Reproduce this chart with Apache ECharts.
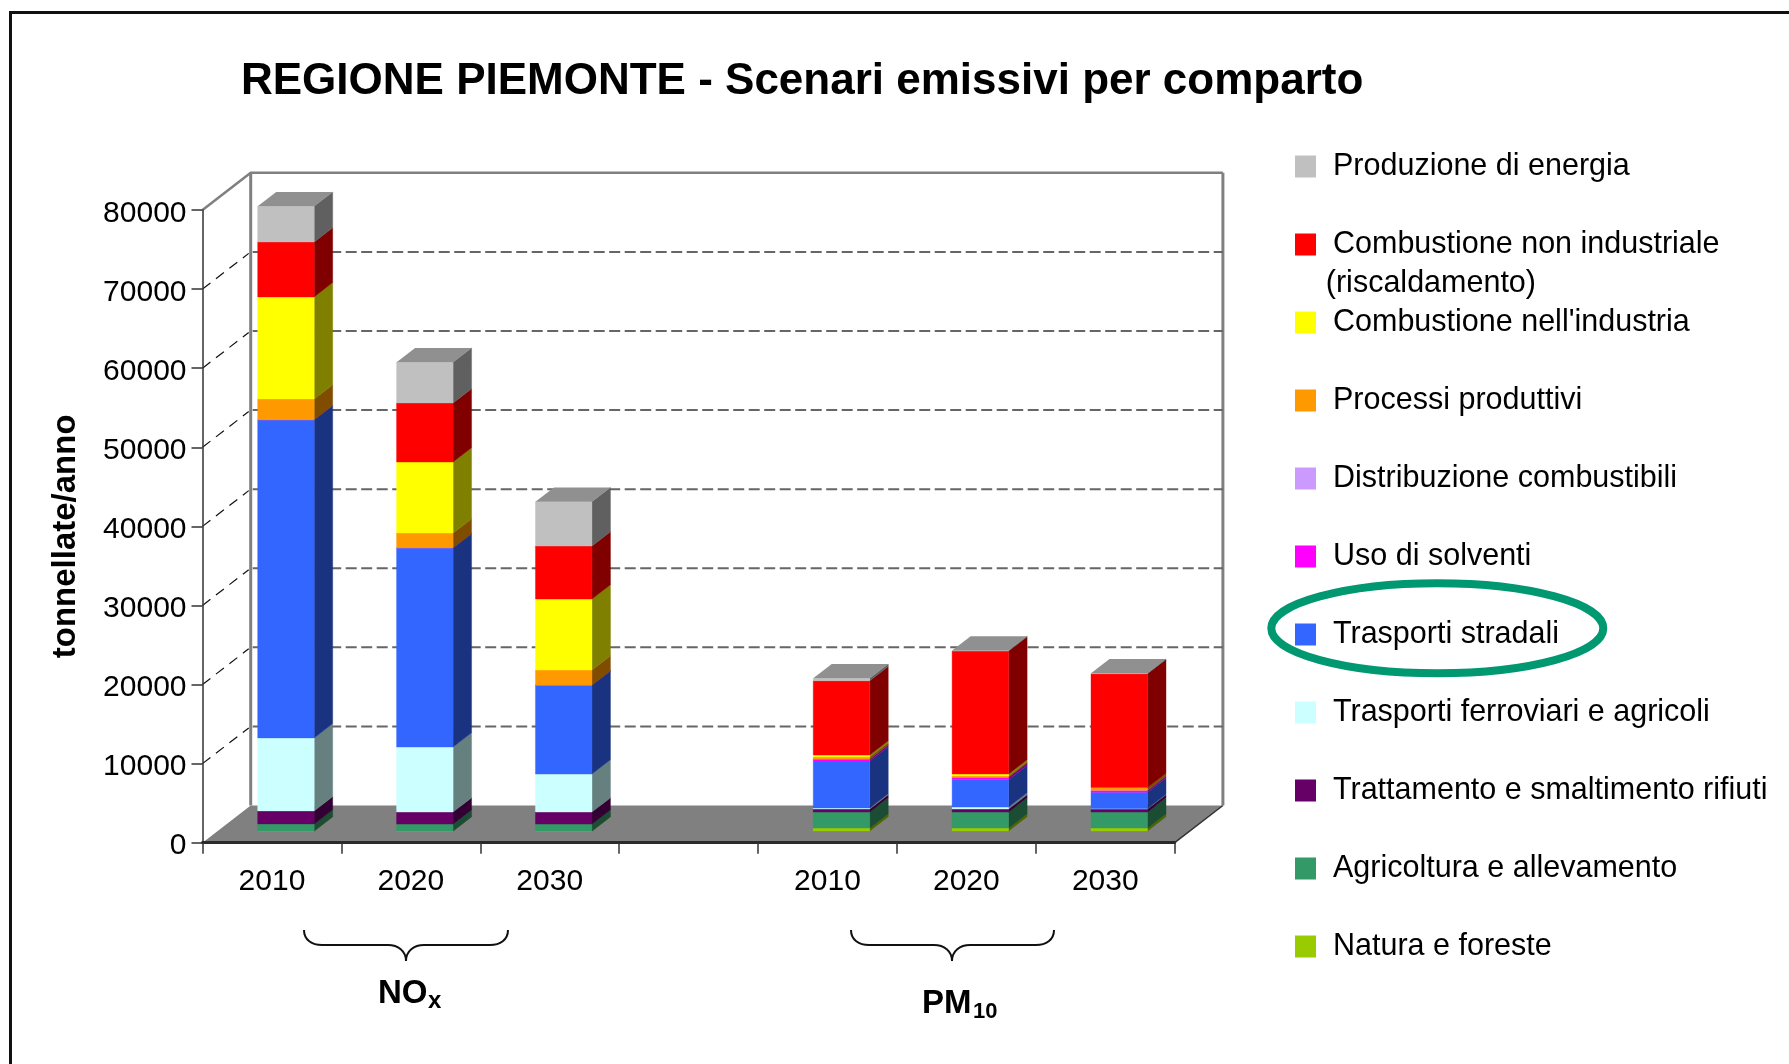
<!DOCTYPE html>
<html>
<head>
<meta charset="utf-8">
<style>html,body{margin:0;padding:0;background:#fff}#c{width:1789px;height:1064px}</style>
<script src="https://cdn.jsdelivr.net/npm/echarts@6/dist/echarts.min.js"></script>
</head>
<body>
<div id="c"></div>
<script>
// ---- data (tonnellate/anno) ----
const categories = ['2010','2020','2030','','2010','2020','2030'];
const yTicks = [0,10000,20000,30000,40000,50000,60000,70000,80000];
const natura      = [0,0,0,null,380,380,380];
const agricoltura = [900,880,880,null,2020,2020,2020];
const rifiuti     = [1640,1520,1520,null,380,380,380];
const ferroviari  = [9230,8220,4800,null,130,250,60];
const stradali    = [40240,25200,11250,null,5940,3450,2060];
const solventi    = [0,0,0,null,250,330,250];
const distribuzione = [0,0,0,null,0,0,0];
const processi    = [2620,1860,1900,null,250,150,340];
const industria   = [12900,8980,8980,null,250,250,0];
const riscaldamento = [6950,7460,6700,null,9400,15550,14400];
const energia     = [4510,5150,5600,null,300,50,50];
// bottom to top of the stack
const seriesNames = ['Natura e foreste','Agricoltura e allevamento','Trattamento e smaltimento rifiuti','Trasporti ferroviari e agricoli','Trasporti stradali','Uso di solventi','Distribuzione combustibili','Processi produttivi',"Combustione nell'industria",'Combustione non industriale (riscaldamento)','Produzione di energia'];
const seriesValues = [natura,agricoltura,rifiuti,ferroviari,stradali,solventi,distribuzione,processi,industria,riscaldamento,energia];
const seriesColors = ['#99CC00','#339966','#660066','#CCFFFF','#3366FF','#FF00FF','#CC99FF','#FF9900','#FFFF00','#FF0000','#C0C0C0'];
const sideColors   = ['#4D6600','#1A4D33','#330033','#668080','#1A3380','#800080','#664D80','#804D00','#808000','#800000','#606060'];

// ---- pseudo-3D projection, in pixels ----
const WALL = [48.2,-37.2];        // depth of the chart box
const BAR_OFF = [14,-11.7];       // front face shift from the axis plane
const BAR_W = 56.5;               // front face width
const BAR_D = [18.5,-14.3];       // depth of a column

const font = '"Liberation Sans", Arial, sans-serif';

function renderBox(params, api) {
  const s = params.seriesIndex - 1;
  const cat = api.value(0), v = api.value(1), b = api.value(2);
  const p0 = api.coord([cat, b]), p1 = api.coord([cat, b + v]);
  const xl = p0[0] + BAR_OFF[0] - BAR_W / 2, xr = xl + BAR_W;
  const yb = p0[1] + BAR_OFF[1], yt = p1[1] + BAR_OFF[1];
  const dx = BAR_D[0], dy = BAR_D[1];
  const children = [
    {type:'polygon', shape:{points:[[xr,yb],[xr+dx,yb+dy],[xr+dx,yt+dy],[xr,yt]]}, style:{fill:sideColors[s], stroke:sideColors[s], lineWidth:0.4}},
    {type:'polygon', shape:{points:[[xl,yb],[xr,yb],[xr,yt],[xl,yt]]}, style:{fill:seriesColors[s], stroke:seriesColors[s], lineWidth:0.4}}
  ];
  if (s === seriesNames.length - 1) {
    children.push({type:'polygon', shape:{points:[[xl,yt],[xr,yt],[xr+dx,yt+dy],[xl+dx,yt+dy]]}, style:{fill:'#909090'}});
  }
  return {type:'group', children};
}

function renderBoxFrame(params, api) {
  const v = api.value(0);
  const cs = params.coordSys;
  const xL = cs.x, xR = cs.x + cs.width;
  const y = api.coord([0, v])[1];
  const [wx, wy] = WALL;
  const kids = [];
  if (v === 0) {
    kids.push({type:'polygon', shape:{points:[[xL,y],[xL+wx,y+wy],[xR+wx,y+wy],[xR,y]]}, style:{fill:'#808080'}});
    kids.push({type:'line', shape:{x1:xR,y1:y,x2:xR+wx,y2:y+wy}, style:{stroke:'#333',lineWidth:1.5}});
    const yTop = api.coord([0, yTicks[yTicks.length-1]])[1] + wy;
    kids.push({type:'line', shape:{x1:xL+wx,y1:yTop,x2:xL+wx,y2:y+wy}, style:{stroke:'#808080',lineWidth:3}});
    kids.push({type:'line', shape:{x1:xR+wx,y1:yTop,x2:xR+wx,y2:y+wy}, style:{stroke:'#808080',lineWidth:3}});
  } else if (v === yTicks[yTicks.length-1]) {
    kids.push({type:'polyline', shape:{points:[[xL,y],[xL+wx,y+wy],[xR+wx,y+wy]]}, style:{stroke:'#808080',lineWidth:2.5,fill:null}});
  } else {
    kids.push({type:'line', shape:{x1:xL,y1:y,x2:xL+wx-2,y2:y+wy+1.5}, style:{stroke:'#111',lineWidth:1.2,lineDash:[10,7]}});
    kids.push({type:'line', shape:{x1:xL+wx+2,y1:y+wy,x2:xR+wx,y2:y+wy}, style:{stroke:'#666',lineWidth:2,lineDash:[11,4.5]}});
  }
  return {type:'group', children:kids};
}

const series = [{
  type:'custom', name:'__box', silent:true, clip:false, z:1,
  renderItem:renderBoxFrame, encode:{y:0},
  data:yTicks.map(v=>[v])
}];
seriesNames.forEach((name,s)=>{
  const data = [];
  categories.forEach((c,i)=>{
    const val = seriesValues[s][i];
    if (val === null) return;
    let base = 0;
    for (let k=0;k<s;k++) base += seriesValues[k][i];
    data.push([i,val,base]);
  });
  series.push({type:'custom', name, clip:false, silent:true, z:3, renderItem:renderBox, encode:{x:0,y:1},
    itemStyle:{color:seriesColors[s]}, data});
});

function brace(x1,xm,x2){
  const y0=930,y1=945,y2=961;
  const st={stroke:'#111',lineWidth:2,fill:null};
  const b=(a,c,d,e,f,g,h,i)=>({type:'bezierCurve',z:20,shape:{x1:a,y1:c,cpx1:d,cpy1:e,cpx2:f,cpy2:g,x2:h,y2:i},style:st});
  const l=(a,c)=>({type:'line',z:20,shape:{x1:a,y1:y1,x2:c,y2:y1},style:st});
  return [
    b(x1,y0,x1,y0+10,x1+8,y1,x1+18,y1), l(x1+18,xm-18),
    b(xm-18,y1,xm-8,y1,xm,y1+6,xm,y2), b(xm,y2,xm,y1+6,xm+8,y1,xm+18,y1),
    l(xm+18,x2-18), b(x2-18,y1,x2-8,y1,x2,y0+10,x2,y0)
  ];
}
// x, text baseline y
function txt(x,base,text,size,weight){
  return {type:'text', z:20, x, y:base-0.79*size, style:{text, font:`${weight||'normal'} ${size}px "Liberation Sans", Arial, sans-serif`, fill:'#000', textBaseline:'top', textAlign:'left'}};
}

const chart = echarts.init(document.getElementById('c'), null, {renderer:'canvas'});
chart.setOption({
  animation:false,
  backgroundColor:'#fff',
  title:{text:'REGIONE PIEMONTE - Scenari emissivi per comparto', left:236, top:55,
    textStyle:{fontFamily:font,fontWeight:'bold',fontSize:44,color:'#000'}},
  grid:{left:202.5,top:210,width:972.2,height:632.7,containLabel:false},
  xAxis:{type:'category',data:categories,z:10,
    axisLine:{lineStyle:{color:'#2a2a2a',width:3}},
    axisTick:{show:true,interval:0,length:11,lineStyle:{color:'#333',width:1.5}},
    axisLabel:{interval:0,color:'#000',fontFamily:font,fontSize:30,margin:24.5},
    splitLine:{show:false}},
  yAxis:{type:'value',min:0,max:80000,interval:10000,z:10,
    name:'tonnellate/anno',nameLocation:'middle',nameRotate:90,nameGap:120,
    nameTextStyle:{fontFamily:font,fontWeight:'bold',fontSize:33,color:'#000',padding:[0,20,0,0]},
    axisLine:{show:true,lineStyle:{color:'#333',width:1.5}},
    axisTick:{show:true,length:11,lineStyle:{color:'#333',width:1.5}},
    axisLabel:{margin:16,formatter:v=>`{a|${v}}`,
      rich:{a:{color:'#000',fontFamily:font,fontSize:30,padding:[7,0,0,0]}}},
    splitLine:{show:false}},
  legend:{orient:'vertical',left:1295,top:151,padding:0,itemWidth:21,itemHeight:22,itemGap:47,icon:'rect',
    selectedMode:false,
    data:seriesNames.slice().reverse(),
    formatter:n=>n.split(' (')[0],
    textStyle:{fontFamily:font,fontSize:30.5,color:'#000',lineHeight:22,padding:[0,0,0,12]}},
  series,
  graphic:[
    {type:'polyline', z:20, shape:{points:[[10.5,1064],[10.5,12.5],[1789,12.5]]}, style:{stroke:'#111',lineWidth:3,fill:null}},
    {type:'ellipse', z:20, shape:{cx:1437.3,cy:628.3,rx:166,ry:45}, style:{stroke:'#009870',lineWidth:8,fill:null}},
    txt(1325.8,291.7,'(riscaldamento)',30.5),
    ...brace(304,406,508), ...brace(851,952,1054),
    txt(378,1003.5,'NO',33,'bold'), txt(428,1008.5,'x',24,'bold'),
    txt(922,1013,'PM',33,'bold'), txt(973,1018.5,'10',22,'bold')
  ]
});
</script>
</body>
</html>
